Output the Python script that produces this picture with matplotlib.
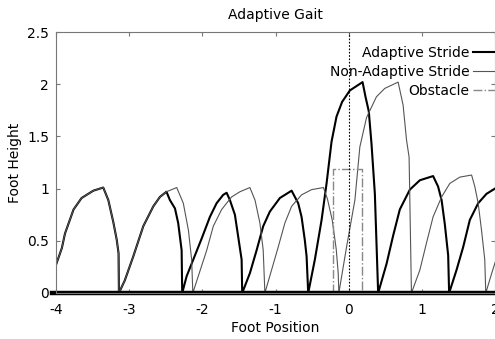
import numpy as np
import matplotlib.pyplot as plt

plt.rcParams['font.family'] = ['DejaVu Sans']
plt.rcParams['axes.unicode_minus'] = False

# adaptive stride (foot trajectory)
adaptive_x = [-4.0, -3.92, -3.877, -3.76, -3.65, -3.49, -3.354, -3.285, -3.217, -3.17, -3.145, -3.14,
              -3.06, -2.944, -2.807, -2.67, -2.58, -2.49, -2.443, -2.374, -2.33, -2.283, -2.275,
              -2.215, -2.124, -2.01, -1.896, -1.805, -1.715, -1.668, -1.623, -1.555, -1.51, -1.463, -1.455,
              -1.35, -1.258, -1.168, -1.077, -0.94, -0.78, -0.735, -0.69, -0.644, -0.6, -0.575, -0.553,
              -0.462, -0.37, -0.302, -0.234, -0.166, -0.09, 0.016, 0.19, 0.23, 0.275, 0.312, 0.358, 0.403,
              0.518, 0.608, 0.699, 0.836, 0.973, 1.154, 1.222, 1.27, 1.314, 1.36, 1.373,
              1.474, 1.565, 1.656, 1.77, 1.884, 2.0, 2.05]
adaptive_y = [0.27, 0.43, 0.57, 0.80, 0.91, 0.98, 1.01, 0.89, 0.68, 0.51, 0.38, 0.0,
              0.12, 0.35, 0.64, 0.83, 0.92, 0.97, 0.89, 0.81, 0.67, 0.41, 0.0,
              0.16, 0.32, 0.52, 0.73, 0.86, 0.94, 0.96, 0.89, 0.75, 0.54, 0.32, 0.0,
              0.19, 0.41, 0.64, 0.78, 0.91, 0.98, 0.92, 0.86, 0.73, 0.51, 0.35, 0.0,
              0.32, 0.70, 1.05, 1.45, 1.69, 1.83, 1.94, 2.02, 1.88, 1.74, 1.43, 0.95, 0.0,
              0.28, 0.55, 0.80, 0.99, 1.08, 1.12, 1.02, 0.89, 0.66, 0.36, 0.0,
              0.22, 0.44, 0.70, 0.86, 0.95, 1.0, 1.03]

# non-adaptive stride
nonadapt_x = [-4.0, -3.92, -3.877, -3.76, -3.65, -3.49, -3.354, -3.285, -3.217, -3.17, -3.145, -3.14,
              -3.06, -2.944, -2.807, -2.67, -2.58, -2.49, -2.35, -2.26, -2.19, -2.146, -2.13,
              -2.056, -1.94, -1.85, -1.736, -1.6, -1.486, -1.35, -1.28, -1.213, -1.168, -1.145,
              -1.054, -0.963, -0.872, -0.78, -0.644, -0.507, -0.345, -0.29, -0.225, -0.17, -0.143, -0.134,
              -0.029, 0.085, 0.153, 0.244, 0.38, 0.494, 0.676, 0.744, 0.79, 0.826, 0.858,
              0.973, 1.064, 1.154, 1.27, 1.383, 1.52, 1.68, 1.724, 1.77, 1.816, 1.86, 1.874,
              1.96, 2.05]
nonadapt_y = [0.27, 0.43, 0.57, 0.80, 0.91, 0.98, 1.01, 0.89, 0.68, 0.51, 0.38, 0.0,
              0.12, 0.35, 0.64, 0.83, 0.92, 0.97, 1.01, 0.86, 0.60, 0.32, 0.0,
              0.16, 0.41, 0.64, 0.80, 0.92, 0.97, 1.01, 0.89, 0.67, 0.41, 0.0,
              0.22, 0.44, 0.67, 0.83, 0.94, 0.99, 1.01, 0.90, 0.70, 0.42, 0.19, 0.0,
              0.44, 0.89, 1.40, 1.68, 1.88, 1.96, 2.02, 1.80, 1.47, 1.30, 0.0,
              0.22, 0.48, 0.73, 0.92, 1.05, 1.11, 1.13, 1.02, 0.86, 0.60, 0.32, 0.0,
              0.2, 0.4]

# obstacle outline
obstacle_x = [-0.22, -0.22, 0.18, 0.18]
obstacle_y = [0.0, 1.19, 1.19, 0.0]

fig = plt.figure(figsize=(4.95, 3.39), dpi=100)
ax = fig.add_axes([56 / 495, 46 / 339, 439 / 495, 261 / 339])

ax.plot(adaptive_x, adaptive_y, color='black', lw=1.5, label='Adaptive Stride')
ax.plot(nonadapt_x, nonadapt_y, color='#555555', lw=0.8, label='Non-Adaptive Stride')
ax.plot(obstacle_x, obstacle_y, color='#888888', lw=1, ls='-.', label='Obstacle')
# ground and obstacle centre line
ax.plot([-4.05, 2.05], [0, 0], color='black', lw=3.2, clip_on=False)
ax.plot([0, 0], [0, 2.5], color='black', lw=0.8, ls=(0, (1.5, 1.5)))

ax.set_xlim(-4, 2)
ax.set_ylim(0, 2.5)
ax.set_xticks([-4, -3, -2, -1, 0, 1, 2])
ax.set_yticks([0, 0.5, 1, 1.5, 2, 2.5])
ax.set_yticklabels(['0', '0.5', '1', '1.5', '2', '2.5'])
ax.tick_params(direction='in', top=True, right=True, length=3, labelsize=10, colors='#777777',
               labelcolor='black')
ax.tick_params(axis='x', pad=7)
ax.tick_params(axis='y', pad=5)
for s in ax.spines.values():
    s.set_color('#777777')
    s.set_linewidth(0.8)

ax.set_title('Adaptive Gait', fontsize=10, pad=9)
ax.set_xlabel('Foot Position', fontsize=10, labelpad=3)
ax.set_ylabel('Foot Height', fontsize=10, labelpad=4)

ax.legend(loc='upper right', bbox_to_anchor=(504 / 495, 1 - 46 / 339), bbox_transform=fig.transFigure,
          frameon=False, markerfirst=False, fontsize=10, handlelength=2.2, handletextpad=0.3,
          borderpad=0, borderaxespad=0, labelspacing=0.35)

plt.savefig('out.png', dpi=100)
